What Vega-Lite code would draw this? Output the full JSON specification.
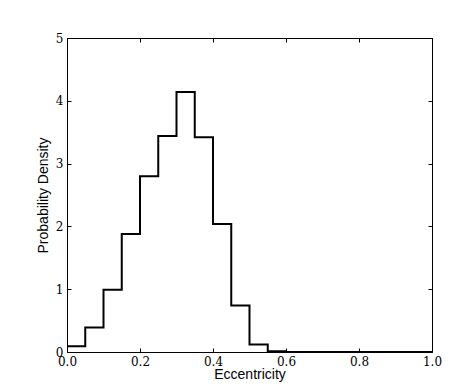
{
  "$schema": "https://vega.github.io/schema/vega-lite/v6.json",
  "width": 365,
  "height": 314,
  "autosize": {"type": "none"},
  "padding": {"left": 67, "top": 38, "right": 23, "bottom": 38},
  "background": "white",
  "config": {
    "view": {"stroke": "black", "strokeWidth": 1},
    "axis": {
      "grid": false,
      "domain": false,
      "tickColor": "black",
      "tickSize": -4,
      "tickWidth": 1,
      "labelFlush": false,
      "labelFont": "DejaVu Serif",
      "labelFontSize": 12,
      "labelColor": "black",
      "titleFont": "Liberation Sans",
      "titleFontSize": 14,
      "titleFontWeight": "normal",
      "titleColor": "black"
    }
  },
  "data": {
    "values": [
      {"e": 0.0, "d": 0.09},
      {"e": 0.05, "d": 0.39},
      {"e": 0.1, "d": 0.99},
      {"e": 0.15, "d": 1.88},
      {"e": 0.2, "d": 2.8},
      {"e": 0.25, "d": 3.44},
      {"e": 0.3, "d": 4.14},
      {"e": 0.35, "d": 3.42},
      {"e": 0.4, "d": 2.04},
      {"e": 0.45, "d": 0.74},
      {"e": 0.5, "d": 0.12},
      {"e": 0.55, "d": 0.01},
      {"e": 0.6, "d": 0.0},
      {"e": 1.0, "d": 0.0}
    ]
  },
  "layer": [
    {
      "mark": {"type": "line", "interpolate": "step-after", "color": "black", "strokeWidth": 2},
      "encoding": {
        "x": {"field": "e", "type": "quantitative", "scale": {"domain": [0, 1], "nice": false},
              "axis": {"title": "Eccentricity", "values": [0, 0.2, 0.4, 0.6, 0.8, 1.0], "format": ".1f", "labelPadding": 8, "titlePadding": 0}},
        "y": {"field": "d", "type": "quantitative", "scale": {"domain": [0, 5], "nice": false},
              "axis": {"title": "Probability Density", "values": [0, 1, 2, 3, 4, 5], "format": "d", "labelPadding": 8, "titlePadding": 5}}
      }
    },
    {
      "mark": {"type": "line", "interpolate": "step-after", "color": "black", "strokeWidth": 0, "opacity": 0},
      "encoding": {
        "x": {"field": "e", "type": "quantitative", "scale": {"domain": [0, 1], "nice": false},
              "axis": {"orient": "top", "title": null, "labels": false, "values": [0, 0.2, 0.4, 0.6, 0.8, 1.0]}},
        "y": {"field": "d", "type": "quantitative", "scale": {"domain": [0, 5], "nice": false},
              "axis": {"orient": "right", "title": null, "labels": false, "values": [0, 1, 2, 3, 4, 5]}}
      }
    }
  ],
  "resolve": {"axis": {"x": "independent", "y": "independent"}}
}
